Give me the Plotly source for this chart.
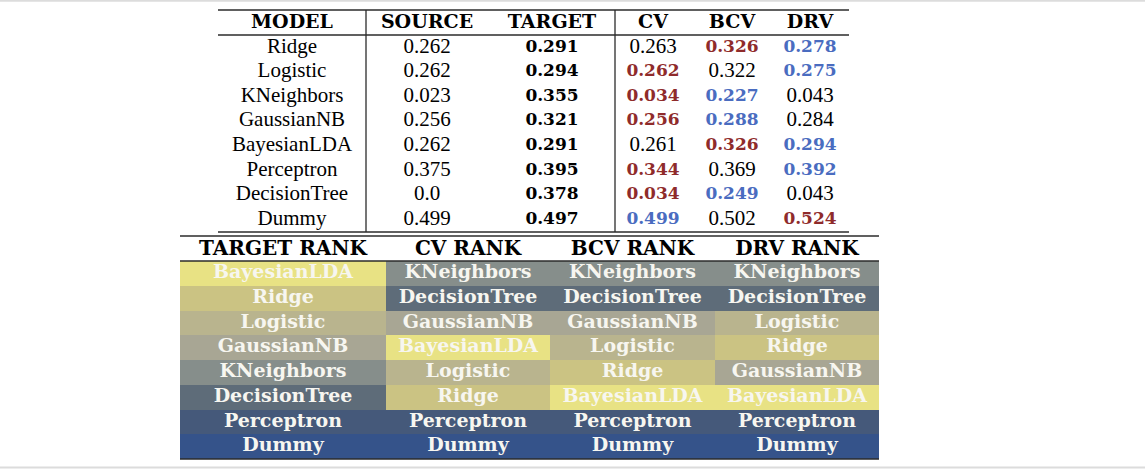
import plotly.graph_objects as go

# ---- data ----
models = ["Ridge", "Logistic", "KNeighbors", "GaussianNB", "BayesianLDA",
          "Perceptron", "DecisionTree", "Dummy"]
source = [0.262, 0.262, 0.023, 0.256, 0.262, 0.375, 0.0, 0.499]
target = [0.291, 0.294, 0.355, 0.321, 0.291, 0.395, 0.378, 0.497]
cv = [0.263, 0.262, 0.034, 0.256, 0.261, 0.344, 0.034, 0.499]
bcv = [0.326, 0.322, 0.227, 0.288, 0.326, 0.369, 0.249, 0.502]
drv = [0.278, 0.275, 0.043, 0.284, 0.294, 0.392, 0.043, 0.524]

# r = highlighted red, b = highlighted blue, "" = plain
cv_mark = ["", "r", "r", "r", "", "r", "r", "b"]
bcv_mark = ["r", "", "b", "b", "r", "", "b", ""]
drv_mark = ["b", "b", "", "", "b", "b", "", "r"]

top_headers = ["MODEL", "SOURCE", "TARGET", "CV", "BCV", "DRV"]

target_rank = ["BayesianLDA", "Ridge", "Logistic", "GaussianNB", "KNeighbors",
               "DecisionTree", "Perceptron", "Dummy"]
cv_rank = ["KNeighbors", "DecisionTree", "GaussianNB", "BayesianLDA", "Logistic",
           "Ridge", "Perceptron", "Dummy"]
bcv_rank = ["KNeighbors", "DecisionTree", "GaussianNB", "Logistic", "Ridge",
            "BayesianLDA", "Perceptron", "Dummy"]
drv_rank = ["KNeighbors", "DecisionTree", "Logistic", "Ridge", "GaussianNB",
            "BayesianLDA", "Perceptron", "Dummy"]
rank_headers = ["TARGET RANK", "CV RANK", "BCV RANK", "DRV RANK"]

# ---- style / layout ----
W, H = 1145, 469
REG_FONT, REG_FS = "Liberation Serif", 21
BOLD_FONT = "DejaVu Serif"
NUM_FS, NAME_FS, HEAD_FS = 17, 19, 20
RULE = "#2b2b2b"
RED = "#8f2b2b"
BLUE = "#4a6cc0"
# one colour per model, following its target rank
palette = ["#e8e284", "#cbc383", "#b9b48e", "#a8a694", "#868e8b",
           "#5e6c79", "#45597a", "#35538a"]

top_left, top_right = 218, 849
top_vlines = [366, 615]
top_x = [292, 427, 552, 653, 732, 810]
top_rule_y, top_head_y, top_bot_y = 10, 35, 232
top_row_h = (top_bot_y - top_head_y) / len(models)

rk_edges_x = [180, 386, 550, 715, 879]
rk_top_y, rk_head_y = 236, 261
rk_row_h = 24.75


def colour(mark):
    return {"r": RED, "b": BLUE}.get(mark, "black")


def label(v, bold):
    return "<b>" + str(v) + "</b>" if bold else str(v)


fig = go.Figure()

# rank cells as a heatmap coloured by each model's target rank
rank_cols = [target_rank, cv_rank, bcv_rank, drv_rank]
z = [[target_rank.index(col[i]) for col in rank_cols] for i in range(len(models))]
n = len(palette)
cscale = []
for k, c in enumerate(palette):
    cscale.append([k / n, c])
    cscale.append([(k + 1) / n, c])
rk_edges_y = [rk_head_y + rk_row_h * i for i in range(len(models) + 1)]
fig.add_trace(go.Heatmap(z=z, x=rk_edges_x, y=rk_edges_y, colorscale=cscale,
                         zmin=-0.5, zmax=n - 0.5, showscale=False,
                         hoverinfo="skip"))

rk_x = [(rk_edges_x[i] + rk_edges_x[i + 1]) / 2 for i in range(4)]
for j, col in enumerate(rank_cols):
    fig.add_trace(go.Scatter(
        x=[rk_x[j]] * len(col),
        y=[rk_head_y + rk_row_h * (i + 0.5) for i in range(len(col))],
        mode="text", text=[label(m, True) for m in col],
        textfont=dict(family=BOLD_FONT, size=NAME_FS, color="#f7f6f0"),
        hoverinfo="skip"))

fig.add_trace(go.Scatter(
    x=rk_x, y=[(rk_top_y + rk_head_y) / 2 + 1] * 4, mode="text",
    text=[label(h, True) for h in rank_headers],
    textfont=dict(family=BOLD_FONT, size=HEAD_FS, color="black"), hoverinfo="skip"))

# top table
row_y = [top_head_y + top_row_h * (i + 0.5) for i in range(len(models))]
fig.add_trace(go.Scatter(
    x=top_x, y=[(top_rule_y + top_head_y) / 2 + 1] * len(top_headers),
    mode="text", text=[label(h, True) for h in top_headers],
    textfont=dict(family=BOLD_FONT, size=HEAD_FS - 1, color="black"), hoverinfo="skip"))

columns = [
    (models, [""] * 8, False),
    (source, [""] * 8, False),
    (target, [""] * 8, True),
    (cv, cv_mark, False),
    (bcv, bcv_mark, False),
    (drv, drv_mark, False),
]
for j, (vals, marks, bold_col) in enumerate(columns):
    bold = [bold_col or m != "" for m in marks]
    fig.add_trace(go.Scatter(
        x=[top_x[j]] * len(vals), y=row_y, mode="text",
        text=[label(v, b) for v, b in zip(vals, bold)],
        textfont=dict(family=[BOLD_FONT if b else REG_FONT for b in bold],
                      size=[NUM_FS if b else REG_FS for b in bold],
                      color=[colour(m) for m in marks]),
        hoverinfo="skip"))


# rules
def hline(x0, x1, y, w=1.3, c=RULE):
    fig.add_shape(type="line", x0=x0, x1=x1, y0=y, y1=y, line=dict(color=c, width=w))


hline(top_left, top_right, top_rule_y)
hline(top_left, top_right, top_head_y)
hline(top_left, top_right, top_bot_y)
for xv in top_vlines:
    fig.add_shape(type="line", x0=xv, x1=xv, y0=top_rule_y, y1=top_bot_y,
                  line=dict(color=RULE, width=1.3))
hline(rk_edges_x[0], rk_edges_x[-1], rk_top_y, w=1.5)
hline(rk_edges_x[0], rk_edges_x[-1], rk_head_y)
hline(rk_edges_x[0], rk_edges_x[-1], rk_edges_y[-1], w=1.5)

# faint page edges
hline(0, W, 0.8, w=2, c="#dcdcdc")
hline(0, W, 467.5, w=2, c="#dcdcdc")

fig.update_layout(
    width=W, height=H, margin=dict(l=0, r=0, t=0, b=0),
    paper_bgcolor="white", plot_bgcolor="white", showlegend=False,
    xaxis=dict(range=[0, W], visible=False, fixedrange=True),
    yaxis=dict(range=[H, 0], visible=False, fixedrange=True),
)

# the page body has a default 8px margin; drop it so the figure fills the window
fig.write_html("out.html", config={"displayModeBar": False},
               post_script="document.body.style.margin='0';"
                           "document.body.style.overflow='hidden';")
